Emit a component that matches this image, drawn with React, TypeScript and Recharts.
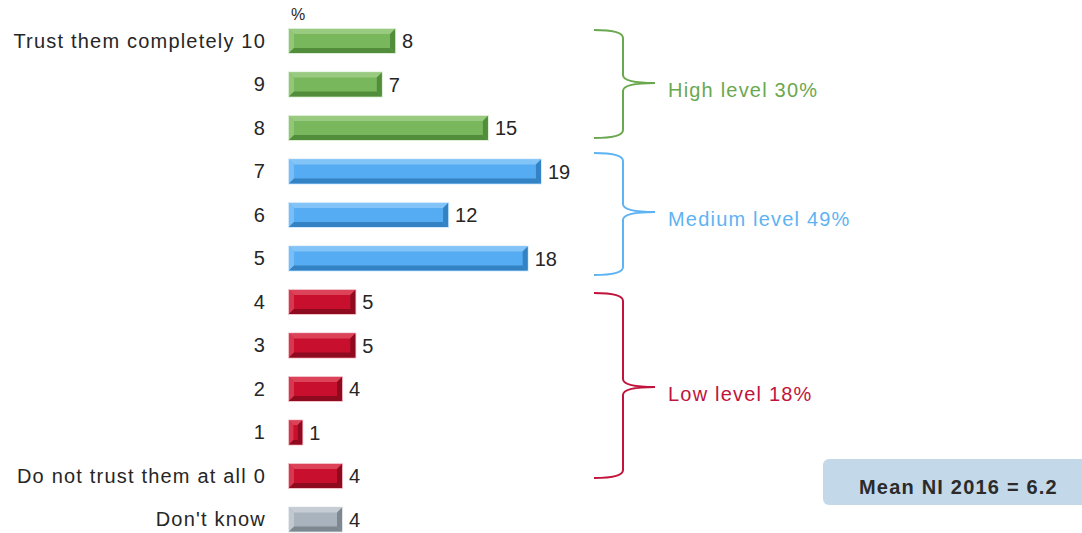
import { BarChart, Bar, XAxis, YAxis, LabelList } from 'recharts'

const categories = [
  'Trust them completely 10',
  '9',
  '8',
  '7',
  '6',
  '5',
  '4',
  '3',
  '2',
  '1',
  'Do not trust them at all 0',
  "Don't know",
]
const shares = [8, 7, 15, 19, 12, 18, 5, 5, 4, 1, 4, 4]
const groups = ['high', 'high', 'high', 'medium', 'medium', 'medium', 'low', 'low', 'low', 'low', 'low', 'dk']

const brackets = [
  { group: 'high', label: 'High level 30%', top: 30, bottom: 138, tip: 83 },
  { group: 'medium', label: 'Medium  level 49%', top: 153, bottom: 275, tip: 212 },
  { group: 'low', label: 'Low  level 18%', top: 293, bottom: 478, tip: 387 },
]

const meanText = 'Mean NI 2016 = 6.2'

const palette: Record<string, { main: string; light: string; dark: string; text: string }> = {
  high: { main: '#78b75b', light: '#98ca80', dark: '#528d3b', text: '#6aa84f' },
  medium: { main: '#55acf2', light: '#82c4f7', dark: '#3282c4', text: '#5eb3f2' },
  low: { main: '#c8102e', light: '#dc4258', dark: '#8e0a1f', text: '#c0143c' },
  dk: { main: '#a9b3bd', light: '#c6cdd4', dark: '#7d8790', text: '#888' },
}

const data = categories.map((name, i) => ({ name, value: shares[i], group: groups[i] }))

const font = 'Arial, "Liberation Sans", sans-serif'
const spacing = 1.2

function BevelBar(props: any) {
  const { x, y, width, height, payload } = props
  const c = palette[payload.group]
  const b = Math.min(5, width / 3)
  const w = width
  const h = height
  return (
    <g>
      <rect x={x - 1} y={y - 1} width={w + 2} height={h + 2} fill={c.main} opacity={0.25} />
      <rect x={x} y={y} width={w} height={h} fill={c.main} />
      <polygon points={`${x},${y} ${x + w},${y} ${x + w - b},${y + b} ${x + b},${y + b}`} fill={c.light} />
      <polygon points={`${x},${y} ${x + b},${y + b} ${x + b},${y + h - b} ${x},${y + h}`} fill={c.light} opacity={0.8} />
      <polygon points={`${x},${y + h} ${x + w},${y + h} ${x + w - b},${y + h - b} ${x + b},${y + h - b}`} fill={c.dark} />
      <polygon points={`${x + w},${y} ${x + w - b},${y + b} ${x + w - b},${y + h - b} ${x + w},${y + h}`} fill={c.dark} />
    </g>
  )
}

function bracePath(top: number, bottom: number, tip: number) {
  const x0 = 594
  const xv = 623
  const xt = 655
  const r = 8
  return [
    `M ${x0} ${top}`,
    `Q ${xv} ${top} ${xv} ${top + r}`,
    `L ${xv} ${tip - r}`,
    `Q ${xv} ${tip} ${xt} ${tip}`,
    `Q ${xv} ${tip} ${xv} ${tip + r}`,
    `L ${xv} ${bottom - r}`,
    `Q ${xv} ${bottom} ${x0} ${bottom}`,
  ].join(' ')
}

export default function App() {
  return (
    <div
      style={{
        position: 'absolute',
        left: 0,
        top: 0,
        width: 1082,
        height: 533,
        overflow: 'hidden',
        background: '#fff',
        fontFamily: font,
      }}
    >
      <BarChart
        width={1082}
        height={541}
        data={data}
        layout="vertical"
        margin={{ top: 19, right: 130, bottom: 0, left: 0 }}
        barCategoryGap={0}
      >
        <XAxis type="number" domain={[0, 50]} hide />
        <YAxis
          type="category"
          dataKey="name"
          width={289}
          axisLine={false}
          tickLine={false}
          tickMargin={17}
          interval={0}
          tick={{ fontSize: 20, fill: '#262626', fontFamily: font, letterSpacing: spacing }}
        />
        <Bar dataKey="value" barSize={24} shape={<BevelBar />} isAnimationActive={false}>
          <LabelList
            dataKey="value"
            position="right"
            offset={7}
            fill="#262626"
            fontSize={20}
            fontFamily={font}
          />
        </Bar>
      </BarChart>
      <svg
        width={1082}
        height={533}
        style={{ position: 'absolute', left: 0, top: 0, pointerEvents: 'none' }}
      >
        <text x={291} y={20} fontSize={16} fill="#262626" fontFamily={font}>
          %
        </text>
        {brackets.map((br) => (
          <g key={br.group}>
            <path d={bracePath(br.top, br.bottom, br.tip)} fill="none" stroke={palette[br.group].text} strokeWidth={2} />
            <text
              x={668}
              y={br.tip + 7}
              dy="0.35em"
              fontSize={20}
              letterSpacing={spacing}
              fill={palette[br.group].text}
              fontFamily={font}
            >
              {br.label}
            </text>
          </g>
        ))}
      </svg>
      <div
        style={{
          position: 'absolute',
          left: 823,
          top: 459,
          width: 280,
          height: 46,
          borderRadius: 6,
          background: '#c3d9ea',
        }}
      />
      <div
        style={{
          position: 'absolute',
          left: 859,
          top: 465,
          height: 44,
          lineHeight: '44px',
          fontSize: 20,
          fontWeight: 'bold',
          letterSpacing: spacing,
          color: '#2b2b2b',
          whiteSpace: 'nowrap',
        }}
      >
        {meanText}
      </div>
    </div>
  )
}
